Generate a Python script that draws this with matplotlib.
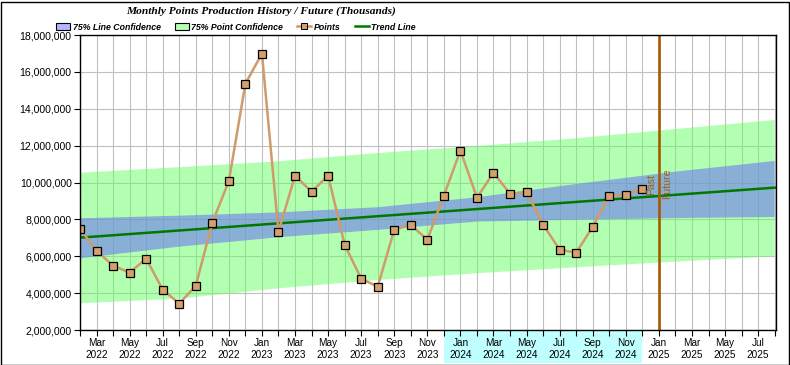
import matplotlib
matplotlib.use("Agg")
import matplotlib.pyplot as plt
from matplotlib.patches import Patch, Rectangle
from matplotlib.lines import Line2D
from matplotlib.ticker import FuncFormatter, MultipleLocator
from matplotlib.transforms import blended_transform_factory

# ---------------- data ----------------
month_names = ["Jan", "Feb", "Mar", "Apr", "May", "Jun",
               "Jul", "Aug", "Sep", "Oct", "Nov", "Dec"]
start_year, start_month = 2022, 2          # first month on the axis (Feb 2022)
n_axis_months = 43                          # Feb 2022 .. Aug 2025

# Monthly points (millions), Feb 2022 .. Dec 2024
points = [7.50, 6.30, 5.49, 5.11, 5.87, 4.19, 3.43, 4.40, 7.82, 10.08, 15.36,
          16.99, 7.33, 10.37, 9.50, 10.37, 6.63, 4.78, 4.35, 7.44, 7.70, 6.90, 9.29,
          11.73, 9.18, 10.53, 9.39, 9.49, 7.71, 6.36, 6.19, 7.60, 9.27, 9.34, 9.66]

# Trend line end values (millions) at month index 0 and 42
trend_idx = [0, 42]
trend_vals = [7.01, 9.72]

# Confidence bands read at 6-month knots (millions)
band_idx = [0, 6, 12, 18, 24, 30, 36, 42]
line_conf_upper = [8.06, 8.20, 8.38, 8.66, 9.20, 9.92, 10.59, 11.17]
line_conf_lower = [5.89, 6.52, 7.03, 7.43, 7.88, 7.98, 8.07, 8.13]
point_conf_upper = [10.53, 10.83, 11.15, 11.60, 11.98, 12.40, 12.90, 13.39]
point_conf_lower = [3.45, 3.70, 4.26, 4.71, 5.08, 5.40, 5.71, 6.00]

past_future_idx = 35    # Jan 2025
highlight_year = 2024

title = "Monthly Points Production History / Future (Thousands)"

# ---------------- figure ----------------
W, H = 790, 365
fig = plt.figure(figsize=(W / 100, H / 100), dpi=100)
ax = fig.add_axes([80 / W, 1 - 330 / H, (776 - 80) / W, (330 - 35) / H])

M = 1e6
ax.fill_between(band_idx, [v * M for v in point_conf_lower], [v * M for v in point_conf_upper],
                facecolor=(0.4, 1.0, 0.4), alpha=0.5, linewidth=0, zorder=2)
ax.fill_between(band_idx, [v * M for v in line_conf_lower], [v * M for v in line_conf_upper],
                facecolor=(111 / 255, 123 / 255, 241 / 255), alpha=0.6, linewidth=0, zorder=2.1)

ax.plot(trend_idx, [v * M for v in trend_vals], color="#007800", lw=1.8, zorder=3)

x_pts = list(range(len(points)))
ax.plot(x_pts, [v * M for v in points], color="#d09a6a", lw=1.8, zorder=4,
        marker="s", markersize=6.3, markerfacecolor="#d4a06c",
        markeredgecolor="black", markeredgewidth=0.9)

ax.axvline(past_future_idx, color="#a65a00", lw=1.9, zorder=5)
ax.text(past_future_idx - 0.45, 9.32 * M, "Past", rotation=90, ha="center", va="bottom",
        fontsize=7.6, color="#a0600a", family="Liberation Sans", zorder=6)
ax.text(past_future_idx + 0.5, 9.10 * M, "Future", rotation=90, ha="center", va="bottom",
        fontsize=7.6, color="#a0600a", family="Liberation Sans", zorder=6)

# axes
ax.set_xlim(0, n_axis_months - 1 + 0.08)
ax.set_ylim(2 * M, 18 * M)
ax.yaxis.set_major_locator(MultipleLocator(2 * M))
ax.yaxis.set_major_formatter(FuncFormatter(lambda v, p: f"{int(round(v)):,}"))

major_idx, major_lbl = [], []
for i in range(n_axis_months):
    m0 = start_month - 1 + i
    y = start_year + m0 // 12
    m = m0 % 12
    if (m + 1) % 2 == 1:
        major_idx.append(i)
        major_lbl.append(f"{month_names[m]}\n{y}")
ax.set_xticks(major_idx)
ax.set_xticklabels(major_lbl)
ax.set_xticks(range(n_axis_months), minor=True)

for lbl in ax.get_xticklabels() + ax.get_yticklabels():
    lbl.set_family("Liberation Sans")
ax.tick_params(axis="x", which="both", length=4, width=0.8, labelsize=7.2, pad=2, direction="out")
ax.tick_params(axis="y", length=4, width=0.8, labelsize=7.6, pad=2)

ax.grid(True, which="both", axis="x", color="#c0c0c0", lw=0.8, zorder=1)
ax.grid(True, which="major", axis="y", color="#c0c0c0", lw=0.8, zorder=1)
ax.set_axisbelow(True)
for s in ax.spines.values():
    s.set_linewidth(1.0)
    s.set_color("black")
    s.set_zorder(7)

# highlight of the labels for the current year
hl = []
for i in range(n_axis_months):
    m0 = start_month - 1 + i
    if start_year + m0 // 12 == highlight_year:
        hl.append(i)
tr = blended_transform_factory(ax.transData, ax.transAxes)
ax.add_patch(Rectangle((hl[0] - 1, -0.112), hl[-1] - hl[0] + 1, 0.109, transform=tr,
                       facecolor="#c0ffff", edgecolor="none", clip_on=False, zorder=0))

# title
fig.text(261 / W, 1 - 11 / H, title, ha="center", va="center", fontsize=8.2,
         family="Liberation Serif", fontweight="bold", style="italic")

# legend
handles = [
    Patch(facecolor="#b4b4ff", edgecolor="black", linewidth=0.8),
    Patch(facecolor="#b4ffb4", edgecolor="black", linewidth=0.8),
    Line2D([], [], color="#d09a6a", lw=1.8, marker="s", markersize=4.5,
           markerfacecolor="#d4a06c", markeredgecolor="black", markeredgewidth=0.7),
    Line2D([], [], color="#007800", lw=1.8),
]
labels = ["75% Line Confidence", "75% Point Confidence", "Points", "Trend Line"]
leg = fig.legend(handles, labels, loc="center left", bbox_to_anchor=(56 / W, 1 - 27 / H),
                 ncol=4, frameon=False, handlelength=1.6, handleheight=0.95,
                 handletextpad=0.3, columnspacing=1.6, borderpad=0, borderaxespad=0,
                 prop={"family": "Liberation Sans", "weight": "bold",
                       "style": "italic", "size": 6.3})

# outer frame
fig.add_artist(Rectangle((0.5 / W, 0.5 / H), (W - 2) / W, (H - 2) / H, transform=fig.transFigure,
                         fill=False, edgecolor="black", lw=1.0))

fig.savefig("out.png", dpi=100)
